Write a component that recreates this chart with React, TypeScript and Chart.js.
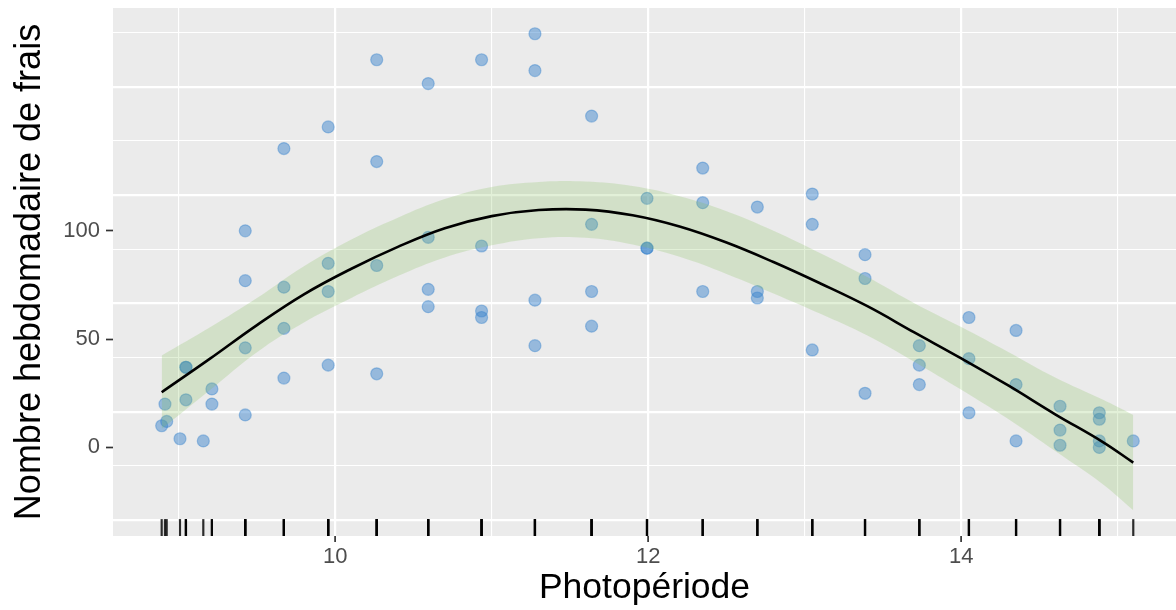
import React, { useEffect, useRef } from 'react';
import { Chart, registerables } from 'chart.js';

Chart.register(...registerables);

// Observations: photoperiod (hours) and weekly count
const photoperiod = [
  8.891, 8.912, 8.923,
  9.008,
  9.046, 9.046, 9.046,
  9.157,
  9.212, 9.212,
  9.425, 9.425, 9.425, 9.425,
  9.672, 9.672, 9.672, 9.672,
  9.955, 9.955, 9.955, 9.955,
  10.265, 10.265, 10.265, 10.265,
  10.594, 10.594, 10.594, 10.594,
  10.935, 10.935, 10.935, 10.935,
  11.276, 11.276, 11.276, 11.276,
  11.638, 11.638, 11.638, 11.638,
  11.992, 11.992, 11.992,
  12.348, 12.348, 12.348,
  12.697, 12.697, 12.697,
  13.048, 13.048, 13.048,
  13.385, 13.385, 13.385,
  13.732, 13.732, 13.732,
  14.049, 14.049, 14.049,
  14.35, 14.35, 14.35,
  14.631, 14.631, 14.631,
  14.882, 14.882, 14.882, 14.882,
  15.099,
];
const weeklyCount = [
  10, 20, 12,
  4,
  37, 37, 22,
  3,
  27, 20,
  100, 77, 46, 15,
  138, 74, 55, 32,
  148, 85, 72, 38,
  179, 132, 84, 34,
  168, 97, 73, 65,
  179, 93, 63, 60,
  191, 174, 68, 47,
  153, 103, 72, 56,
  115, 92, 92,
  129, 113, 72,
  111, 72, 69,
  117, 103, 45,
  89, 78, 25,
  47, 38, 29,
  60, 41, 16,
  54, 29, 3,
  19, 8, 1,
  16, 13, 3, 0,
  3,
];

// Smooth fit and its confidence band
const fitX = [8.891, 9.2, 9.5, 9.8, 10.1, 10.4, 10.7, 11.0, 11.3, 11.6, 11.9, 12.2, 12.5, 12.8, 13.1, 13.4, 13.7, 14.0, 14.3, 14.6, 14.9, 15.099];
const fitY = [25.5, 41, 56.5, 70.7, 82.4, 92.6, 101.2, 106.8, 109.6, 109.8, 107.2, 102, 94.6, 85.6, 75.7, 65.2, 53.1, 41.1, 28.6, 15.3, 2.7, -7];
const fitHigh = [42.5, 55.5, 69, 83.7, 95.9, 106.1, 114.7, 120.3, 122.6, 122.8, 120.7, 116, 109.1, 100.1, 89.7, 78.7, 66.6, 55.6, 44.1, 32.3, 22.2, 15];
const fitLow = [8.5, 26.5, 44, 57.7, 68.9, 79.1, 87.7, 93.3, 96.6, 96.8, 93.7, 88, 80.1, 71.1, 61.7, 51.7, 39.6, 26.6, 13.1, -1.7, -16.8, -29];

// Axis ticks and panel grid
const xTickValues = [9, 10, 11, 12, 13, 14, 15];
const xLabelValues = [10, 12, 14];
const yTickValues = [0, 50, 100];
const yGridMajor = [-33.5, 16.5, 66.5, 116.5, 166.5];
const yGridMinor = [-8.5, 41.5, 91.5, 141.5, 191.5];

const X_MIN = 8.58;
const X_MAX = 15.372;
const Y_MIN = -40.9;
const Y_MAX = 202.9;

const FONT = '"Liberation Sans", Arial, Helvetica, sans-serif';

const panelBg = {
  id: 'panelBg',
  beforeDraw(chart: any) {
    const { ctx, chartArea } = chart;
    ctx.save();
    ctx.fillStyle = '#EBEBEB';
    ctx.fillRect(chartArea.left, chartArea.top, chartArea.right - chartArea.left, chartArea.bottom - chartArea.top);
    ctx.restore();
  },
};

const rug = {
  id: 'rug',
  afterDatasetsDraw(chart: any) {
    const { ctx, chartArea } = chart;
    const xs = chart.scales.x;
    const len = (chartArea.bottom - chartArea.top) * 0.032;
    ctx.save();
    ctx.strokeStyle = 'rgba(0,0,0,0.82)';
    ctx.lineWidth = 2.2;
    for (const v of photoperiod) {
      const px = xs.getPixelForValue(v);
      ctx.beginPath();
      ctx.moveTo(px, chartArea.bottom);
      ctx.lineTo(px, chartArea.bottom - len);
      ctx.stroke();
    }
    ctx.restore();
  },
};

const noPad = (s: any) => {
  s.paddingTop = 0;
  s.paddingBottom = 0;
  s.paddingLeft = 0;
  s.paddingRight = 0;
};

export default function App() {
  const ref = useRef<HTMLCanvasElement | null>(null);

  useEffect(() => {
    document.body.style.margin = '0';
    const canvas = ref.current;
    if (!canvas) return;

    const points = photoperiod.map((x, i) => ({ x, y: weeklyCount[i] }));
    const fitLine = fitX.map((x, i) => ({ x, y: fitY[i] }));
    const lowLine = fitX.map((x, i) => ({ x, y: fitLow[i] }));
    const highLine = fitX.map((x, i) => ({ x, y: fitHigh[i] }));

    const chart = new Chart(canvas, {
      type: 'scatter',
      data: {
        datasets: [
          {
            label: 'obs',
            data: points,
            order: 3,
            pointRadius: 6,
            pointBackgroundColor: 'rgba(55,130,205,0.47)',
            pointBorderColor: 'rgba(55,130,205,0.42)',
            pointBorderWidth: 1.2,
            showLine: false,
          } as any,
          {
            label: 'low',
            data: lowLine,
            order: 2,
            showLine: true,
            pointRadius: 0,
            borderWidth: 0,
            borderColor: 'rgba(0,0,0,0)',
            tension: 0.4,
            fill: false,
          },
          {
            label: 'high',
            data: highLine,
            order: 2,
            showLine: true,
            pointRadius: 0,
            borderWidth: 0,
            borderColor: 'rgba(0,0,0,0)',
            backgroundColor: 'rgba(130,190,85,0.23)',
            tension: 0.4,
            fill: '-1',
          },
          {
            label: 'fit',
            data: fitLine,
            order: 1,
            showLine: true,
            pointRadius: 0,
            borderWidth: 2.6,
            borderColor: '#000000',
            tension: 0.4,
            fill: false,
          },
        ],
      },
      options: {
        responsive: false,
        animation: false,
        events: [],
        layout: { autoPadding: false, padding: { top: 8, right: 0, bottom: 0, left: 0 } },
        plugins: {
          legend: { display: false },
          tooltip: { enabled: false },
        },
        scales: {
          x: {
            type: 'linear',
            min: X_MIN,
            max: X_MAX,
            afterBuildTicks: (s: any) => {
              s.ticks = xTickValues.map((v) => ({ value: v }));
            },
            afterFit: (s: any) => {
              s.height = 74;
              noPad(s);
            },
            ticks: {
              autoSkip: false,
              maxRotation: 0,
              padding: 2,
              color: '#4D4D4D',
              font: { family: FONT, size: 22 },
              callback: (v: any) => (xLabelValues.includes(Number(v)) ? String(v) : ''),
            },
            grid: {
              color: '#FFFFFF',
              lineWidth: (c: any) => (c.tick && xLabelValues.includes(c.tick.value) ? 2.2 : 1.1),
              drawTicks: true,
              tickLength: 6,
              tickWidth: 1.7,
              tickColor: (c: any) => (c.tick && xLabelValues.includes(c.tick.value) ? '#333333' : 'rgba(0,0,0,0)'),
            },
            border: { display: false },
            title: {
              display: true,
              text: 'Photopériode',
              color: '#000000',
              font: { family: FONT, size: 35.5 },
              padding: { top: 0, bottom: 0 },
            },
          },
          y: {
            type: 'linear',
            position: 'left',
            min: Y_MIN,
            max: Y_MAX,
            afterBuildTicks: (s: any) => {
              s.ticks = yTickValues.map((v) => ({ value: v }));
            },
            afterFit: (s: any) => {
              s.width = 113;
              noPad(s);
            },
            ticks: {
              padding: 6,
              color: '#4D4D4D',
              font: { family: FONT, size: 22 },
              callback: (v: any) => String(v),
            },
            grid: {
              drawOnChartArea: false,
              drawTicks: true,
              tickLength: 7,
              tickWidth: 1.7,
              tickColor: '#333333',
              color: 'rgba(0,0,0,0)',
            },
            border: { display: false },
            title: {
              display: true,
              text: 'Nombre hebdomadaire de frais',
              color: '#000000',
              font: { family: FONT, size: 36 },
              padding: { top: 8, bottom: 0 },
            },
          },
          yg: {
            type: 'linear',
            position: 'left',
            min: Y_MIN,
            max: Y_MAX,
            afterBuildTicks: (s: any) => {
              s.ticks = [...yGridMajor, ...yGridMinor].sort((a, b) => a - b).map((v) => ({ value: v }));
            },
            afterFit: (s: any) => {
              s.width = 0;
              noPad(s);
            },
            ticks: { display: false },
            grid: {
              color: '#FFFFFF',
              lineWidth: (c: any) => (c.tick && yGridMajor.includes(c.tick.value) ? 2.2 : 1.1),
              drawTicks: false,
            },
            border: { display: false },
          },
        },
      } as any,
      plugins: [panelBg, rug],
    });

    return () => chart.destroy();
  }, []);

  return (
    <div style={{ width: 1176, height: 610 }}>
      <canvas ref={ref} width={1176} height={610} style={{ display: 'block' }} />
    </div>
  );
}
